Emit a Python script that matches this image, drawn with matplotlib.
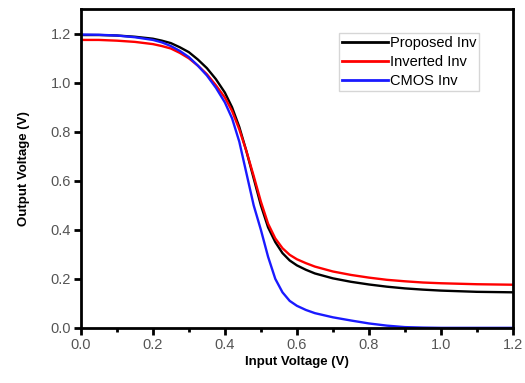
import matplotlib
matplotlib.use("Agg")
import matplotlib.pyplot as plt
from matplotlib.ticker import MultipleLocator, FormatStrFormatter

# Voltage transfer curves
vin = [0.0, 0.05, 0.1, 0.15, 0.2, 0.225, 0.25, 0.275, 0.3, 0.325, 0.35, 0.375,
       0.4, 0.42, 0.44, 0.46, 0.48, 0.5, 0.52, 0.54, 0.56, 0.58, 0.6, 0.625,
       0.65, 0.7, 0.75, 0.8, 0.85, 0.9, 0.95, 1.0, 1.1, 1.2]

vout_prop = [1.195, 1.195, 1.193, 1.188, 1.18, 1.172, 1.162, 1.145, 1.125, 1.095, 1.06, 1.015,
             0.96, 0.90, 0.82, 0.72, 0.61, 0.50, 0.41, 0.35, 0.305, 0.275, 0.255, 0.237,
             0.222, 0.202, 0.188, 0.177, 0.168, 0.161, 0.156, 0.152, 0.147, 0.145]

vout_inv = [1.175, 1.175, 1.172, 1.167, 1.158, 1.15, 1.14, 1.122, 1.10, 1.07, 1.035, 0.99,
            0.94, 0.885, 0.81, 0.72, 0.62, 0.515, 0.425, 0.365, 0.325, 0.298, 0.28, 0.264,
            0.25, 0.23, 0.216, 0.205, 0.196, 0.19, 0.185, 0.182, 0.178, 0.176]

vout_cmos = [1.197, 1.196, 1.193, 1.186, 1.175, 1.165, 1.15, 1.13, 1.105, 1.07, 1.03, 0.98,
             0.92, 0.855, 0.76, 0.63, 0.50, 0.40, 0.29, 0.20, 0.145, 0.11, 0.09, 0.073,
             0.06, 0.043, 0.03, 0.018, 0.009, 0.003, 0.001, 0.0, 0.0, 0.0]

labels = ["Proposed Inv", "Inverted Inv", "CMOS Inv"]

plt.rcParams['font.family'] = ['Liberation Sans', 'DejaVu Sans']

fig = plt.figure(figsize=(5.25, 3.83), dpi=100)
ax = fig.add_axes([0.154, 0.144, 0.823, 0.833])

ax.plot(vin, vout_prop, color='black', lw=1.7, label=labels[0])
ax.plot(vin, vout_inv, color='#ff0000', lw=1.7, label=labels[1])
ax.plot(vin, vout_cmos, color='#1a1aff', lw=1.7, label=labels[2])

ax.set_xlim(0, 1.2)
ax.set_ylim(0, 1.302)
ax.xaxis.set_major_locator(MultipleLocator(0.2))
ax.xaxis.set_minor_locator(MultipleLocator(0.1))
ax.yaxis.set_major_locator(MultipleLocator(0.2))
ax.xaxis.set_major_formatter(FormatStrFormatter('%.1f'))
ax.yaxis.set_major_formatter(FormatStrFormatter('%.1f'))

for s in ax.spines.values():
    s.set_linewidth(2)
ax.tick_params(which='major', direction='out', length=5, width=2, pad=2,
               labelsize=10.5, labelcolor='#555555', top=False, right=False)
ax.tick_params(which='minor', direction='out', length=3, width=2,
               top=False, right=False)

ax.set_xlabel('Input Voltage (V)', fontsize=9.5, fontweight='bold', labelpad=3)
ax.set_ylabel('Output Voltage (V)', fontsize=9.5, fontweight='bold', labelpad=15)

leg = ax.legend(loc='upper left', bbox_to_anchor=(0.597, 0.925), fontsize=10.5,
                handlelength=3.2, handletextpad=0.1, borderpad=0.2,
                labelspacing=0.35, borderaxespad=0, fancybox=False)
leg.get_frame().set_edgecolor('#cccccc')
leg.get_frame().set_linewidth(1)
for line in leg.get_lines():
    line.set_linewidth(2)

fig.savefig('out.png', dpi=100)
